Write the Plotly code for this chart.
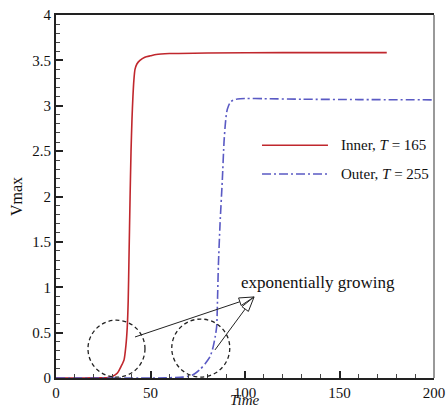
import math
import plotly.graph_objects as go

# Growth of the maximum velocity with time for the two cases
inner_t = [0, 10, 20, 25, 27.5, 30, 32, 33, 34.5, 36, 37, 37.7, 38.2, 38.6, 39.2, 39.7,
           40.2, 40.7, 41.2, 41.8, 42.8, 44.4, 47, 50, 53, 60, 80, 120, 175]
inner_v = [0, 0, 0.001, 0.003, 0.006, 0.02, 0.045, 0.07, 0.13, 0.2, 0.36, 0.56, 0.85,
           1.3, 2.0, 2.5, 2.85, 3.1, 3.28, 3.4, 3.46, 3.5, 3.535, 3.55, 3.565, 3.575,
           3.582, 3.585, 3.585]

outer_t = [0, 50, 58, 63, 67, 72, 76, 79, 81.5, 83, 84.2, 85, 85.5, 85.9, 86.8, 88,
           88.9, 89.6, 90.3, 91.3, 92.5, 93.7, 96, 100, 110, 130, 160, 200]
outer_v = [0, 0, 0.002, 0.005, 0.01, 0.03, 0.09, 0.16, 0.235, 0.33, 0.45, 0.565, 0.9,
           1.23, 1.7, 2.18, 2.6, 2.8, 2.93, 3.0, 3.045, 3.062, 3.075, 3.08, 3.078,
           3.072, 3.068, 3.065]

x_ticks = [0, 50, 100, 150, 200]
y_ticks = [0, 0.5, 1, 1.5, 2, 2.5, 3, 3.5, 4]
y_tick_text = ["0", "0.5", "1", "1.5", "2", "2.5", "3", "3.5", "4"]

series_names = ["Inner, <i>T</i> = 165", "Outer, <i>T</i> = 255"]

SERIF = "Liberation Serif, serif"
RED = "#c0272d"
BLUE = "#5a5ac4"
DASHDOT = "9px,3px,2px,3px"

W, H = 446, 408
M = dict(l=56, r=12, t=15, b=30)
X_RANGE = [0, 200]
Y_RANGE = [0, 4]
PLOT_W = W - M["l"] - M["r"]
PLOT_H = H - M["t"] - M["b"]
px_per_x = PLOT_W / (X_RANGE[1] - X_RANGE[0])
px_per_y = PLOT_H / (Y_RANGE[1] - Y_RANGE[0])

fig = go.Figure()
fig.add_trace(go.Scatter(x=inner_t, y=inner_v, mode="lines", name=series_names[0],
                         line=dict(color=RED, width=1.6, shape="spline", smoothing=0.6),
                         showlegend=False))
fig.add_trace(go.Scatter(x=outer_t, y=outer_v, mode="lines", name=series_names[1],
                         line=dict(color=BLUE, width=1.6, dash=DASHDOT, shape="spline",
                                   smoothing=0.6),
                         showlegend=False))

shapes = []

# dashed circles around the exponential-growth regions (center t, center v, radius in px)
for ct, cv, r in [(32, 0.323, 28.5), (76.6, 0.33, 29)]:
    rx, ry = r / px_per_x, r / px_per_y
    shapes.append(dict(type="circle", xref="x", yref="y",
                       x0=ct - rx, x1=ct + rx, y0=cv - ry, y1=cv + ry,
                       line=dict(color="#222", width=1.3, dash="4px,3px")))

# arrows with open triangular heads pointing at the label
tip = (104.8, 0.893)
for tail in [(41.8, 0.452), (84.1, 0.309)]:
    dx = (tip[0] - tail[0]) * px_per_x
    dy = (tip[1] - tail[1]) * px_per_y
    d = math.hypot(dx, dy)
    ux, uy = dx / d, dy / d
    head_len, head_half = 15, 4
    bx, by = -ux * head_len, -uy * head_len
    p1 = (bx - uy * head_half, by + ux * head_half)
    p2 = (bx + uy * head_half, by - ux * head_half)

    def to_data(p):
        return tip[0] + p[0] / px_per_x, tip[1] + p[1] / px_per_y

    base = to_data((bx, by))
    shapes.append(dict(type="line", xref="x", yref="y", x0=tail[0], y0=tail[1],
                       x1=base[0], y1=base[1], line=dict(color="#222", width=1)))
    a, b = to_data(p1), to_data(p2)
    shapes.append(dict(type="path", xref="x", yref="y",
                       path=f"M {tip[0]} {tip[1]} L {a[0]} {a[1]} L {b[0]} {b[1]} Z",
                       fillcolor="white", line=dict(color="#222", width=1)))

# legend samples
legend_rows = [(2.564, RED, "solid"), (2.248, BLUE, DASHDOT)]
for (yv, col, dash) in legend_rows:
    shapes.append(dict(type="line", xref="x", yref="y", x0=109, x1=143.9, y0=yv, y1=yv,
                       line=dict(color=col, width=1.6, dash=dash)))

# right frame edge
shapes.append(dict(type="line", xref="paper", yref="paper", x0=1, x1=1, y0=0, y1=1,
                   line=dict(color="#777", width=1.5)))

annotations = []
for (yv, _, _), name in zip(legend_rows, series_names):
    annotations.append(dict(x=149.7, y=yv, xref="x", yref="y", text=name, showarrow=False,
                            xanchor="left", yanchor="middle",
                            font=dict(family=SERIF, size=15, color="#111")))
annotations.append(dict(x=96.8, y=1.047, xref="x", yref="y", text="exponentially growing",
                        showarrow=False, xanchor="left", yanchor="middle",
                        font=dict(family=SERIF, size=17, color="#111")))
# x-axis title placed just under the tick labels
annotations.append(dict(x=0.5, y=-21.5 / PLOT_H, xref="paper", yref="paper",
                        text="<i>Time</i>", showarrow=False, xanchor="center",
                        yanchor="middle", font=dict(family=SERIF, size=15, color="#111")))

tickfont = dict(family=SERIF, size=15, color="#111")
fig.update_layout(
    width=W, height=H, margin=M,
    paper_bgcolor="white", plot_bgcolor="white",
    font=dict(family=SERIF, size=15, color="#111"),
    shapes=shapes, annotations=annotations,
    xaxis=dict(range=X_RANGE, tickvals=x_ticks, ticks="inside", ticklen=7, tickwidth=1.5,
               tickcolor="#222", showline=True, linecolor="#222", linewidth=1.8, mirror=True,
               showgrid=False, zeroline=False, automargin=False, tickfont=tickfont,
               minor=dict(dtick=10, ticks="inside", ticklen=4, tickcolor="#444", tickwidth=1)),
    yaxis=dict(range=Y_RANGE, tickvals=y_ticks, ticktext=y_tick_text, ticks="inside",
               ticklen=7, tickwidth=1.5, tickcolor="#222", showline=True, linecolor="#222",
               linewidth=1.8, showgrid=False, zeroline=False, automargin=False,
               tickfont=tickfont,
               minor=dict(dtick=0.1, ticks="inside", ticklen=4, tickcolor="#444", tickwidth=1),
               title=dict(text="Vmax", standoff=6, font=dict(family=SERIF, size=16))),
)

fig.write_html("out.html")
